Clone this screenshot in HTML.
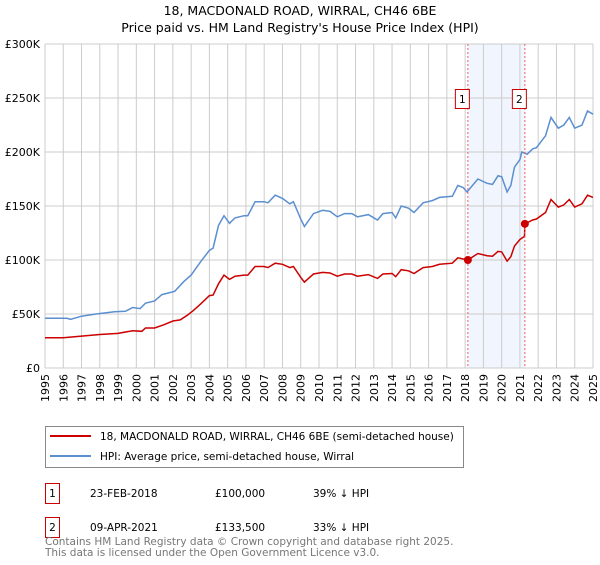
<!DOCTYPE html>
<html><head><meta charset="utf-8"><style>
body{margin:0;background:#fff;font-family:"Liberation Sans","DejaVu Sans",sans-serif;}
svg text{font-family:"DejaVu Sans","Liberation Sans",sans-serif;}
</style></head><body>
<svg id="chart" width="600" height="560">
<text x="300" y="15" text-anchor="middle" font-size="12.5">18, MACDONALD ROAD, WIRRAL, CH46 6BE</text>
<text x="300" y="32" text-anchor="middle" font-size="12.5">Price paid vs. HM Land Registry's House Price Index (HPI)</text>
<g id="grid"></g><g id="series"></g>
<g>
<rect x="45.5" y="426.5" width="418" height="41" fill="#fff" stroke="#888"/>
<line x1="50" y1="436" x2="91" y2="436" stroke="#cc0000" stroke-width="2"/>
<text x="100" y="440" font-size="10.5">18, MACDONALD ROAD, WIRRAL, CH46 6BE (semi-detached house)</text>
<line x1="50" y1="456" x2="91" y2="456" stroke="#5b8fd0" stroke-width="2"/>
<text x="100" y="460" font-size="10.5">HPI: Average price, semi-detached house, Wirral</text>
</g>
<g font-size="10.5">
<rect x="45.5" y="483.5" width="14" height="20" fill="none" stroke="#cc0000"/><text x="52.5" y="497" text-anchor="middle">1</text>
<text x="90" y="497">23-FEB-2018</text><text x="215" y="497">£100,000</text><text x="313" y="497">39% ↓ HPI</text>
<rect x="45.5" y="517.5" width="14" height="20" fill="none" stroke="#cc0000"/><text x="52.5" y="531" text-anchor="middle">2</text>
<text x="90" y="531">09-APR-2021</text><text x="215" y="531">£133,500</text><text x="313" y="531">33% ↓ HPI</text>
</g>
<text x="45" y="545" font-size="10.5" fill="#777">Contains HM Land Registry data © Crown copyright and database right 2025.</text>
<text x="45" y="556" font-size="10.5" fill="#777">This data is licensed under the Open Government Licence v3.0.</text>
</svg>
<script>
const yTicks=[0,50,100,150,200,250,300];
const yTickLabels=["£0","£50K","£100K","£150K","£200K","£250K","£300K"];
const xYears=[1995,1996,1997,1998,1999,2000,2001,2002,2003,2004,2005,2006,2007,2008,2009,2010,2011,2012,2013,2014,2015,2016,2017,2018,2019,2020,2021,2022,2023,2024,2025];
const hpiT=[1995,1996.2,1996.4,1997,1997.8,1998.8,1999.4,1999.8,2000.2,2000.5,2001,2001.4,2002.1,2002.6,2003,2003.5,2004,2004.2,2004.5,2004.8,2005.1,2005.4,2005.9,2006.1,2006.5,2007,2007.2,2007.6,2008,2008.4,2008.6,2009,2009.2,2009.7,2010.2,2010.6,2011,2011.4,2011.8,2012.1,2012.7,2013.2,2013.5,2014,2014.2,2014.5,2014.9,2015.2,2015.7,2016.2,2016.6,2017.3,2017.6,2017.9,2018.1,2018.7,2019.2,2019.5,2019.8,2020,2020.3,2020.5,2020.7,2021,2021.1,2021.4,2021.7,2021.9,2022.4,2022.7,2023.1,2023.4,2023.7,2024,2024.4,2024.7,2025];
const hpiV=[46,46,45,48,50,52,52.5,56,55,60,62,68,71,80,86,98,109,111,132,141,134,139,141,141,154,154,153,160,157,152,154,138,131,143,146,145,140,143,143,140,142,137,143,144,139,150,148,144,153,155,158,159,169,167,163,175,171,170,178,177,163,169,186,193,200,198,203,204,215,232,222,225,232,222,225,238,235];
const priceT=[1995,1996,1997,1998,1999,1999.8,2000.3,2000.5,2001,2001.5,2002,2002.4,2002.8,2003.1,2003.5,2004,2004.2,2004.5,2004.8,2005.1,2005.4,2005.9,2006.1,2006.5,2007,2007.2,2007.6,2008,2008.4,2008.6,2009,2009.2,2009.7,2010.2,2010.6,2011,2011.4,2011.8,2012.1,2012.7,2013.2,2013.5,2014,2014.2,2014.5,2014.9,2015.2,2015.7,2016.2,2016.6,2017.3,2017.6,2018.15,2018.7,2019.2,2019.5,2019.8,2020,2020.3,2020.5,2020.7,2021,2021.25,2021.27,2021.7,2021.9,2022.4,2022.7,2023.1,2023.4,2023.7,2024,2024.4,2024.7,2025];
const priceV=[28,28,29.5,31,32,34.5,34,37,37,40,43.5,44.5,49,53,59,67,67.5,78,86,82,85,86,86,94,94,93,97,96,93,94,84,79.5,87,88.5,88,85,87,87,85,86.5,83,87,87.5,84.5,91,90,87.5,93,94,96,97,102,100,106,104,103.5,108,107.5,99,103,113,119,122,133.5,137,138,144,156,149,151,156,149,152,160,158];
const saleT=[2018.15,2021.27];
const saleV=[100,133.5];
const saleLabels=["1","2"];
const NS="http://www.w3.org/2000/svg";
const X0=45,X1=593,Y0=368,Y1=44;
const xs=t=>X0+(t-1995)/30*(X1-X0);
const ys=v=>Y0-v/300*(Y0-Y1);
function mk(tag,attrs,parent){const e=document.createElementNS(NS,tag);for(const k in attrs)e.setAttribute(k,attrs[k]);parent.appendChild(e);return e;}
const g=document.getElementById('grid'),s=document.getElementById('series');
const band=mk('rect',{x:xs(saleT[0]),y:Y1,width:xs(saleT[1])-xs(saleT[0]),height:Y0-Y1,fill:'#eef3fc',opacity:0.8},g);


xYears.forEach(yr=>{
 const l=mk('line',{x1:xs(yr),x2:xs(yr),y1:Y1,y2:Y0,stroke:'#ccc'},g);
 
 
 const t=mk('text',{x:0,y:0,'font-size':11,'text-anchor':'end',transform:`translate(${xs(yr)+4},${Y0+6}) rotate(-90)`},g);
 t.textContent=yr;
 
 
});
yTicks.forEach((v,i)=>{
 const l=mk('line',{x1:X0,x2:X1,y1:ys(v),y2:ys(v),stroke:'#ccc'},g);
 
 
 const t=mk('text',{x:X0-5,y:ys(v)+4,'font-size':11,'text-anchor':'end'},g);
 t.textContent=yTickLabels[i];
 
 
});
function path(T,V,color,name){
 const p=mk('path',{d:T.map((t,i)=>(i?'L':'M')+xs(t).toFixed(1)+','+ys(V[i]).toFixed(1)).join(''),fill:'none',stroke:color,'stroke-width':1.5},s);
 
 
}
path(hpiT,hpiV,'#5b8fd0','hpi-line');
path(priceT,priceV,'#cc0000','price-line');
saleT.forEach((t,i)=>{
 const l=mk('line',{x1:xs(t),x2:xs(t),y1:Y1,y2:Y0,stroke:'#f06060','stroke-dasharray':'2,2'},s);
 
 
 const c=mk('circle',{cx:xs(t),cy:ys(saleV[i]),r:4,fill:'#cc0000'},s);
 
 
 const b=mk('rect',{x:xs(t)-12.5,y:89.5,width:14,height:19,fill:'#fff',stroke:'#cc0000'},s);
 
 
 const tx=mk('text',{x:xs(t)-5.5,y:103,'font-size':10.5,'text-anchor':'middle'},s);
 tx.textContent=saleLabels[i];
 
 
});
</script>
</body></html>
